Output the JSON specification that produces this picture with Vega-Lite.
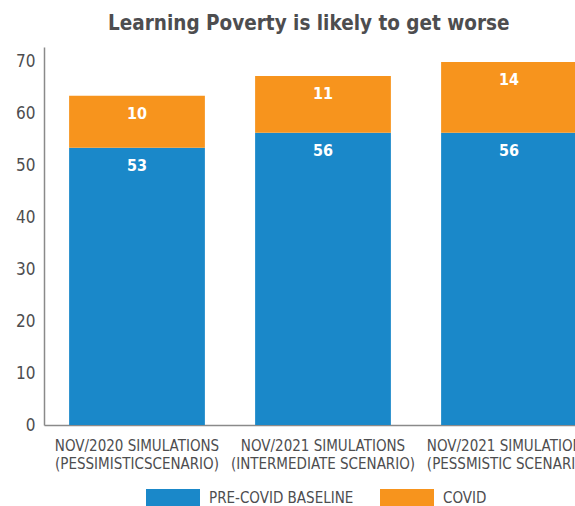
{
  "$schema": "https://vega.github.io/schema/vega-lite/v6.json",
  "autosize": {"type": "none"},
  "width": 531,
  "height": 378,
  "padding": {"left": 44, "top": 47, "right": 0, "bottom": 81},
  "background": "white",
  "title": {
    "text": "Learning Poverty is likely to get worse",
    "anchor": "start",
    "frame": "group",
    "dx": 64,
    "offset": 13,
    "font": "DejaVu Sans Condensed, sans-serif",
    "fontSize": 20.5,
    "fontWeight": "bold",
    "color": "#4d4d4f"
  },
  "config": {
    "view": {"stroke": null},
    "font": "DejaVu Sans Condensed, sans-serif"
  },
  "data": {
    "values": [
      {"scenario": "NOV/2020 SIMULATIONS|(PESSIMISTICSCENARIO)", "component": "PRE-COVID BASELINE", "value": 53.3},
      {"scenario": "NOV/2020 SIMULATIONS|(PESSIMISTICSCENARIO)", "component": "COVID", "value": 10.0},
      {"scenario": "NOV/2021 SIMULATIONS|(INTERMEDIATE SCENARIO)", "component": "PRE-COVID BASELINE", "value": 56.2},
      {"scenario": "NOV/2021 SIMULATIONS|(INTERMEDIATE SCENARIO)", "component": "COVID", "value": 10.9},
      {"scenario": "NOV/2021 SIMULATIONS|(PESSMISTIC SCENARIO)", "component": "PRE-COVID BASELINE", "value": 56.2},
      {"scenario": "NOV/2021 SIMULATIONS|(PESSMISTIC SCENARIO)", "component": "COVID", "value": 13.6}
    ]
  },
  "encoding": {
    "x": {
      "field": "scenario",
      "type": "nominal",
      "sort": null,
      "scale": {"range": [0, 558], "paddingInner": 0.27, "paddingOuter": 0.135},
      "axis": {
        "title": null,
        "labelAngle": 0,
        "labelExpr": "split(datum.label, '|')",
        "labelFontSize": 15,
        "labelColor": "#4d4d4f",
        "labelLineHeight": 18.5,
        "labelPadding": 13,
        "labelLimit": 0,
        "ticks": false,
        "domainColor": "#8a8a8a",
        "domainWidth": 1.5
      }
    },
    "y": {
      "field": "value",
      "type": "quantitative",
      "stack": "zero",
      "scale": {"domain": [0, 72.7], "nice": false},
      "axis": {
        "title": null,
        "values": [0, 10, 20, 30, 40, 50, 60, 70],
        "grid": false,
        "ticks": false,
        "labelFontSize": 17,
        "labelColor": "#4d4d4f",
        "labelPadding": 9,
        "domainColor": "#8a8a8a",
        "domainWidth": 1.5
      }
    },
    "order": {"field": "component", "sort": "descending"}
  },
  "layer": [
    {
      "mark": {"type": "bar"},
      "encoding": {
        "color": {
          "field": "component",
          "type": "nominal",
          "scale": {"domain": ["PRE-COVID BASELINE", "COVID"], "range": ["#1a88c9", "#f7941d"]},
          "legend": {
            "title": null,
            "orient": "none",
            "direction": "horizontal",
            "legendX": 102,
            "legendY": 424,
            "symbolType": "M-1,-0.333H1V0.333H-1Z",
            "symbolSize": 2916,
            "symbolStrokeWidth": 0,
            "symbolOpacity": 1,
            "labelFontSize": 15,
            "labelLimit": 0,
            "labelColor": "#4d4d4f",
            "labelOffset": 9,
            "columnPadding": 26
          }
        }
      }
    },
    {
      "mark": {"type": "text", "color": "white", "fontWeight": "bold", "fontSize": 16, "baseline": "middle", "dy": 18},
      "encoding": {
        "text": {"field": "value", "type": "quantitative", "format": ".0f"}
      }
    }
  ]
}
